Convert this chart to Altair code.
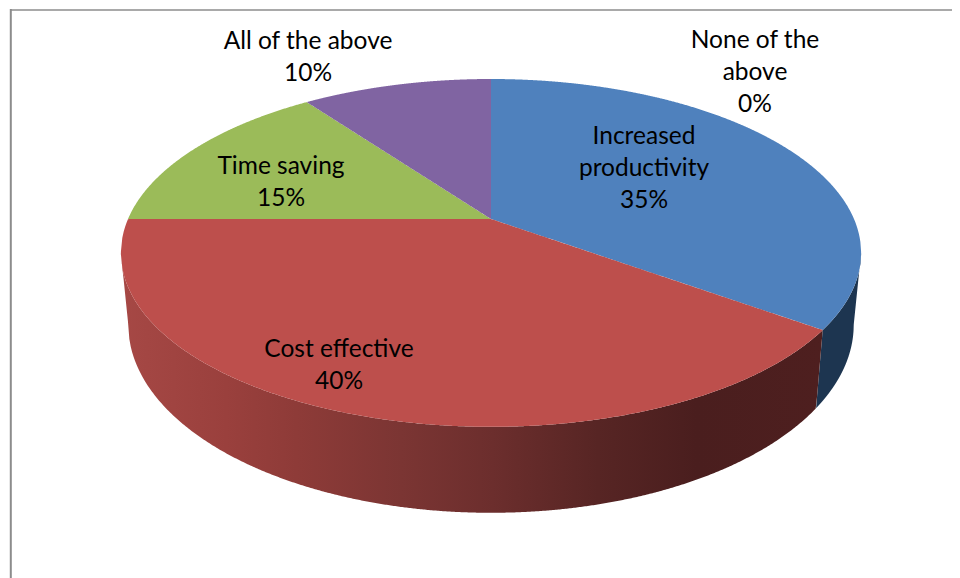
import numpy as np
import pandas as pd
import altair as alt

# chart values
categories = ["Increased productivity", "Cost effective", "Time saving", "All of the above", "None of the above"]
values = [35, 40, 15, 10, 0]
top_colors = ["#4F81BD", "#BD4F4C", "#9BBB59", "#8064A2", "#4BACC6"]

# label lines (category text, wrapped as in the picture) and their anchor
label_lines = [["Increased", "productivity"], ["Cost effective"], ["Time saving"], ["All of the above"], ["None of the", "above"]]
label_x = [644, 339, 281, 308, 755]
label_y = [137, 350, 167, 42, 41]
LINE_STEP = 32
FONT = "Lato"
FONT_SIZE = 24.5

# 3D view of the pie (perspective projection of a tilted disc)
CX, CY, AX, BY, K, DEPTH, BOTTOM_X = 491, 219, 363, 167.3, 0.195, 69.2, 0.98

xscale = alt.Scale(domain=[8, 952])
yscale = alt.Scale(domain=[578, 8])


def top_pt(t):
    t = np.radians(t)
    w = 1 + K * np.cos(t)
    return CX + AX * np.sin(t) / w, CY - BY * np.cos(t) / w


def bot_pt(t):
    x, y = top_pt(t)
    w = 1 + K * np.cos(np.radians(t))
    return CX + BOTTOM_X * (x - CX), y + DEPTH / w


def to_area(px, py):
    px, py = np.asarray(px), np.asarray(py)
    n = len(px)
    i0, i1 = int(np.argmin(px)), int(np.argmax(px))
    fw = [(i0 + j) % n for j in range((i1 - i0) % n + 1)]
    bw = [(i0 - j) % n for j in range((i0 - i1) % n + 1)]
    grid = np.linspace(px[i0] + 0.01, px[i1] - 0.01, 500)
    a = np.interp(grid, px[fw], py[fw])
    b = np.interp(grid, px[bw], py[bw])
    return pd.DataFrame({"x": grid, "y": np.minimum(a, b), "y2": np.maximum(a, b)})


def area_layer(df, fill):
    return alt.Chart(df).mark_area(color=fill, orient="vertical", stroke=None).encode(
        x=alt.X("x:Q", scale=xscale, axis=None),
        y=alt.Y("y:Q", scale=yscale, axis=None, stack=None),
        y2="y2:Q",
    )


def grad(stops):
    return alt.Gradient(
        gradient="linear", x1=0, x2=1, y1=0, y2=0,
        stops=[alt.GradientStop(color=c, offset=o) for o, c in stops],
    )


wall_fills = [
    "#1D3550",
    grad([(0, "#A64845"), (0.15, "#9A403D"), (0.25, "#8E3B38"), (0.4, "#7B3533"),
          (0.53, "#6C2E2D"), (0.68, "#572524"), (0.82, "#4A1E1E"), (1, "#4E1F1F")]),
]

RIGHT_EXT = np.degrees(np.arccos(-K))
LEFT_EXT = 360 - RIGHT_EXT

edges = np.cumsum([0] + values) * 3.6
layers = []

# side walls
for i, (a, b) in enumerate(zip(edges[:-1], edges[1:])):
    lo, hi = max(a, RIGHT_EXT), min(b, LEFT_EXT)
    if hi <= lo:
        continue
    ts = np.linspace(lo, hi, 300)
    tx, ty = top_pt(ts)
    bx, by = bot_pt(ts[::-1])
    layers.append(area_layer(to_area(np.r_[tx, bx], np.r_[ty, by]), wall_fills[i]))

# top face
for i, (a, b) in enumerate(zip(edges[:-1], edges[1:])):
    if b <= a:
        continue
    ts = np.linspace(a, b, 300)
    tx, ty = top_pt(ts)
    layers.append(area_layer(to_area(np.r_[CX, tx], np.r_[CY, ty]), top_colors[i]))

# frame lines
frame_top = alt.Chart(pd.DataFrame({"x": [10], "x2": [952], "y": [10]})).mark_rule(color="#8C8C8C", strokeWidth=1.6).encode(
    x=alt.X("x:Q", scale=xscale, axis=None), x2="x2:Q", y=alt.Y("y:Q", scale=yscale, axis=None))
frame_left = alt.Chart(pd.DataFrame({"x": [10.8], "y": [9], "y2": [578]})).mark_rule(color="#8C8C8C", strokeWidth=2).encode(
    x=alt.X("x:Q", scale=xscale, axis=None), y=alt.Y("y:Q", scale=yscale, axis=None), y2="y2:Q")
layers += [frame_top, frame_left]

# labels
rows = []
for lines, v, lx, ly in zip(label_lines, values, label_x, label_y):
    for j, s in enumerate(lines + [f"{v}%"]):
        rows.append({"text": s, "x": lx, "y": ly + j * LINE_STEP})
labels = alt.Chart(pd.DataFrame(rows)).mark_text(
    font=FONT, fontSize=FONT_SIZE, color="#000000", align="center", baseline="middle"
).encode(
    x=alt.X("x:Q", scale=xscale, axis=None),
    y=alt.Y("y:Q", scale=yscale, axis=None),
    text="text:N",
)
layers.append(labels)

chart = alt.layer(*layers).properties(
    width=944, height=570, padding=0, background="#FFFFFF",
    autosize=alt.AutoSizeParams(type="none"),
).configure_view(stroke=None)

chart.save("out.html", embed_options={"renderer": "svg", "actions": False})
